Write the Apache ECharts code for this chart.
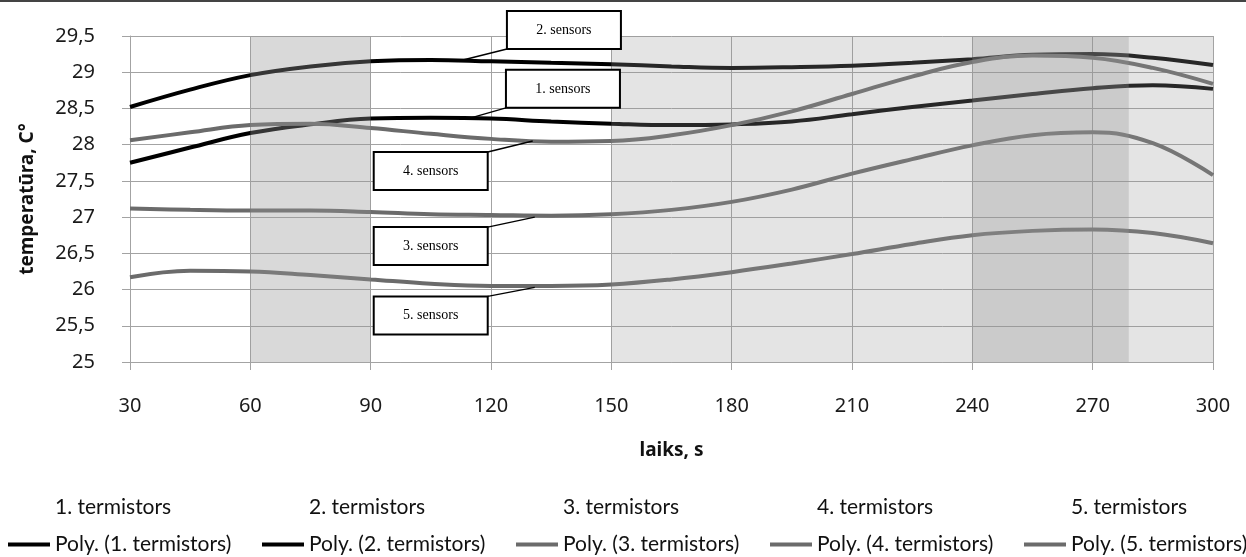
<!DOCTYPE html>
<html><head><meta charset="utf-8">
<script src="https://cdn.jsdelivr.net/npm/echarts@6/dist/echarts.min.js"></script>
<style>html,body{margin:0;padding:0;background:#fff}#c{width:1246px;height:557px}</style>
</head><body><div id="c"></div>
<script>
// ---- data ----
const times = [30,45,60,75,90,105,120,135,150,165,180,195,210,225,240,255,270,285,300];
const poly1 = [27.75,27.96,28.16,28.28,28.36,28.37,28.36,28.32,28.29,28.27,28.28,28.32,28.42,28.52,28.61,28.70,28.78,28.82,28.77];
const poly2 = [28.52,28.76,28.96,29.08,29.15,29.17,29.15,29.13,29.11,29.08,29.06,29.07,29.09,29.13,29.18,29.24,29.25,29.20,29.10];
const poly3 = [27.12,27.10,27.09,27.09,27.07,27.04,27.03,27.02,27.04,27.10,27.21,27.38,27.60,27.80,27.99,28.13,28.17,28.02,27.58];
const poly4 = [28.06,28.17,28.27,28.29,28.23,28.15,28.08,28.04,28.05,28.13,28.27,28.46,28.70,28.94,29.14,29.23,29.20,29.06,28.84];
const poly5 = [26.17,26.26,26.25,26.20,26.14,26.08,26.05,26.05,26.07,26.14,26.24,26.36,26.49,26.63,26.75,26.81,26.83,26.78,26.64];
const rawNames = ['1. termistors','2. termistors','3. termistors','4. termistors','5. termistors'];
const polyNames = ['Poly. (1. termistors)','Poly. (2. termistors)','Poly. (3. termistors)','Poly. (4. termistors)','Poly. (5. termistors)'];
const xTicks = {min:30, max:300, step:30};
const yTicks = {min:25, max:29.5, step:0.5};
const shadeRanges = [[60,90],[150,300],[240,279]];
const callouts = [
  {text:'2. sensors', x:113, y:29.17},
  {text:'1. sensors', x:115, y:28.37},
  {text:'4. sensors', x:130.4, y:28.05},
  {text:'3. sensors', x:130.9, y:27.00},
  {text:'5. sensors', x:130.9, y:26.03}
];
// ---- layout / styles ----
const calloutOffsets = [[44,-11],[35,-10],[-45,11],[-47,10],[-47,9]];
const shadeColors = ['rgba(150,150,150,0.36)','rgba(150,150,150,0.26)','rgba(150,150,150,0.31)'];
const polyColors = ['#000000','#000000','#6b6b6b','#6b6b6b','#6b6b6b'];
const polyData = [poly1,poly2,poly3,poly4,poly5];
const gridCol = '#a3a3a3';
const AX = 'Noto Sans';

const chart = echarts.init(document.getElementById('c'), null, {renderer:'canvas'});
const series = [];
rawNames.forEach((n)=>series.push({name:n,type:'line',data:[],symbol:'none',lineStyle:{width:0},color:'rgba(0,0,0,0)'}));
polyNames.forEach((n,i)=>series.push({
  name:n,type:'line',smooth:0.4,symbol:'none',z:3,
  color:polyColors[i],lineStyle:{width:4,color:polyColors[i]},
  data: times.map((t,k)=>[t,polyData[i][k]])
}));
series.push({
  name:'shade',type:'line',data:[],z:10,silent:true,
  markArea:{silent:true,z:10,label:{show:false},
    data: shadeRanges.map((r,i)=>[{xAxis:r[0],itemStyle:{color:shadeColors[i],borderWidth:0}},{xAxis:r[1]}])}
});
const legends = [];
const legendBase = {orient:'horizontal', padding:0, itemWidth:42, itemHeight:4, icon:'rect', selectedMode:false,
  textStyle:{fontFamily:'Lato',fontSize:21,color:'#111'}};
rawNames.forEach((n,i)=>legends.push(Object.assign({},legendBase,{left:8+254*i,top:497,data:[n],itemStyle:{color:'rgba(0,0,0,0)',opacity:0}})));
polyNames.forEach((n,i)=>legends.push(Object.assign({},legendBase,{left:8+254*i,top:534,data:[n]})));
chart.setOption({
  animation:false,
  grid:{left:130,right:33,top:36,bottom:195},
  legend:legends,
  xAxis:{type:'value',min:xTicks.min,max:xTicks.max,interval:xTicks.step,
    axisLine:{show:true,lineStyle:{color:gridCol,width:1}},
    axisTick:{show:true,length:8,lineStyle:{color:gridCol}},
    splitLine:{show:true,lineStyle:{color:gridCol,width:1}},
    axisLabel:{fontFamily:AX,fontSize:20,color:'#1a1a1a',margin:34},
    name:'laiks, s',nameLocation:'middle',nameGap:79,
    nameTextStyle:{fontFamily:AX,fontWeight:'bold',fontSize:19,color:'#111'}},
  yAxis:{type:'value',min:yTicks.min,max:yTicks.max,interval:yTicks.step,
    axisLine:{show:true,lineStyle:{color:gridCol,width:1}},
    axisTick:{show:true,length:8,lineStyle:{color:gridCol}},
    splitLine:{show:true,lineStyle:{color:gridCol,width:1}},
    axisLabel:{fontFamily:AX,fontSize:20,color:'#1a1a1a',margin:35,
      formatter:v=>String(v).replace('.',',')},
    name:'temperatūra, C°',nameLocation:'middle',nameGap:93,nameRotate:90,
    nameTextStyle:{fontFamily:AX,fontWeight:'bold',fontSize:19,color:'#111'}},
  series:series
});
const BW=114,BH=38;
const g=[{type:'rect',shape:{x:0,y:0,width:1246,height:2},style:{fill:'#444'},z:100}];
callouts.forEach((c,i)=>{
  const p=chart.convertToPixel({gridIndex:0},[c.x,c.y]);
  const [dx,dy]=calloutOffsets[i];
  const ex=p[0]+dx, ey=p[1]+dy;
  const bx = dx>0 ? ex : ex-BW;
  const by = dx>0 ? ey-BH : ey;
  g.push({type:'line',shape:{x1:p[0],y1:p[1],x2:ex,y2:ey},style:{stroke:'#000',lineWidth:1.5},z:100});
  g.push({type:'rect',shape:{x:bx,y:by,width:BW,height:BH},style:{fill:'#fff',stroke:'#000',lineWidth:2},z:100});
  g.push({type:'text',x:bx+BW/2,y:by+BH/2,style:{text:c.text,align:'center',verticalAlign:'middle',font:'14px "Liberation Serif"',fill:'#000'},z:101});
});
chart.setOption({graphic:g});
</script></body></html>
